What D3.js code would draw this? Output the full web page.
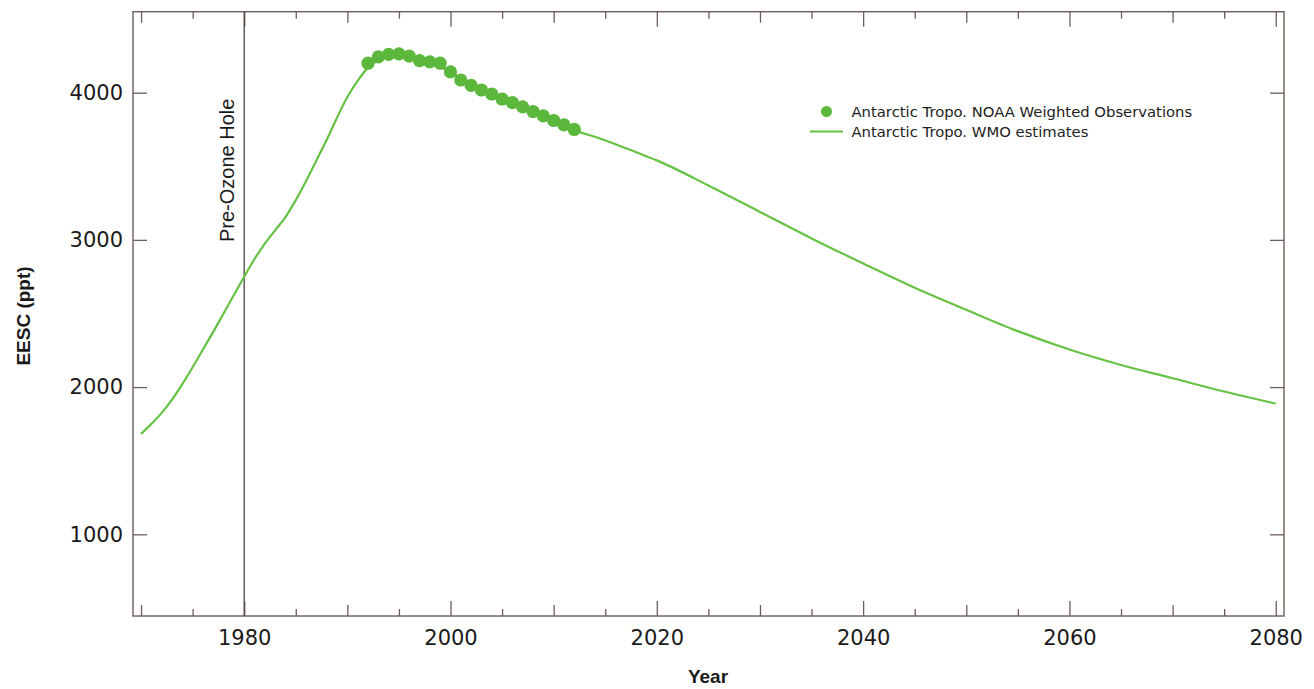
<!DOCTYPE html>
<html>
<head>
<meta charset="utf-8">
<script src="https://cdn.jsdelivr.net/npm/d3@7"></script>
<style>
  html, body { margin: 0; padding: 0; background: #fff; }
  svg { display: block; }
</style>
</head>
<body>
<svg id="chart" width="1314" height="689"></svg>
<script>
// ---- Data ----
const wmoYears = [1970,1971,1972,1973,1974,1975,1976,1977,1978,1979,1980,1981,1982,1983,1984,1985,1986,1987,1988,1989,1990,1991,1992,1993,1994,1995,1996,1997,1998,1999,2000,2002,2004,2006,2008,2010,2012,2014,2016,2018,2020,2025,2030,2035,2040,2045,2050,2055,2060,2065,2070,2075,2080];
const wmoValues = [1682,1750,1825,1915,2020,2135,2255,2375,2500,2625,2750,2870,2975,3065,3155,3270,3400,3540,3680,3830,3970,4080,4170,4220,4248,4255,4245,4225,4200,4175,4140,4050,3990,3930,3870,3810,3745,3700,3650,3595,3540,3370,3190,3010,2840,2675,2525,2380,2255,2150,2060,1970,1888];

const noaaYears = [1992,1993,1994,1995,1996,1997,1998,1999,2000,2001,2002,2003,2004,2005,2006,2007,2008,2009,2010,2011,2012];
const noaaValues = [4200,4243,4260,4263,4248,4218,4209,4200,4141,4086,4049,4018,3991,3957,3933,3903,3872,3842,3811,3781,3750];

const xLabelTicks = [1980,2000,2020,2040,2060,2080];
const xTenTicks = [1970,1990,2010,2030,2050,2070];
const xFiveTicks = [1975,1985,1995,2005,2015,2025,2035,2045,2055,2065,2075];
const yTicks = [1000,2000,3000,4000];
const preOzoneYear = 1980;
const legendLabels = ["Antarctic Tropo. NOAA Weighted Observations", "Antarctic Tropo. WMO estimates"];

// ---- Layout ----
const L = 133, R = 1284, T = 11.7, B = 616;
const frameColor = "#6b5d58";
const dotColor = "#5cb83c";
const lineColor = "#66c244";
const textColor = "#1a1a1a";

const svg = d3.select("#chart");
const x = d3.scaleLinear().domain([1969.22, 2080.8]).range([L, R]);
const y = d3.scaleLinear().domain([445, 4550]).range([B, T]);

function styleAxis(g) {
  g.select(".domain").remove();
  g.selectAll(".tick line").attr("stroke", frameColor).attr("stroke-width", 1.3);
}

// bottom axis: labelled 20-year ticks
svg.append("g").attr("transform", `translate(0,${B})`)
  .call(d3.axisBottom(x).tickValues(xLabelTicks).tickSize(-15).tickPadding(14).tickFormat(d3.format("d")))
  .call(styleAxis)
  .call(g => g.selectAll("text").attr("fill", textColor).style("font-family", "DejaVu Sans").style("font-size", "21px"));
svg.append("g").attr("transform", `translate(0,${B})`)
  .call(d3.axisBottom(x).tickValues(xTenTicks).tickSize(-11).tickFormat(""))
  .call(styleAxis);
svg.append("g").attr("transform", `translate(0,${B})`)
  .call(d3.axisBottom(x).tickValues(xFiveTicks).tickSize(-7).tickFormat(""))
  .call(styleAxis);

// top axis: mirrored ticks
svg.append("g").attr("transform", `translate(0,${T})`)
  .call(d3.axisTop(x).tickValues(xLabelTicks).tickSize(-15).tickFormat(""))
  .call(styleAxis);
svg.append("g").attr("transform", `translate(0,${T})`)
  .call(d3.axisTop(x).tickValues(xTenTicks).tickSize(-11).tickFormat(""))
  .call(styleAxis);
svg.append("g").attr("transform", `translate(0,${T})`)
  .call(d3.axisTop(x).tickValues(xFiveTicks).tickSize(-7).tickFormat(""))
  .call(styleAxis);

// left axis
svg.append("g").attr("transform", `translate(${L},0)`)
  .call(d3.axisLeft(y).tickValues(yTicks).tickSize(-14).tickPadding(10).tickFormat(d3.format("d")))
  .call(styleAxis)
  .call(g => g.selectAll("text").attr("fill", textColor).style("font-family", "DejaVu Sans").style("font-size", "21px"));
// right axis
svg.append("g").attr("transform", `translate(${R},0)`)
  .call(d3.axisRight(y).tickValues(yTicks).tickSize(-14).tickFormat(""))
  .call(styleAxis);

// frame
svg.append("rect")
  .attr("x", L).attr("y", T).attr("width", R - L).attr("height", B - T)
  .attr("fill", "none").attr("stroke", frameColor).attr("stroke-width", 1.4);

// Pre-ozone hole line
svg.append("line")
  .attr("x1", x(preOzoneYear)).attr("x2", x(preOzoneYear))
  .attr("y1", T).attr("y2", B)
  .attr("stroke", "#4e4444").attr("stroke-width", 1.3);
svg.append("text")
  .attr("transform", `translate(${x(preOzoneYear) - 10},242) rotate(-90)`)
  .attr("text-anchor", "start")
  .attr("fill", textColor)
  .style("font-family", "Liberation Sans, Arial, sans-serif").style("font-size", "20px")
  .text("Pre-Ozone Hole");

// WMO line
const line = d3.line().x((d, i) => x(wmoYears[i])).y(d => y(d)).curve(d3.curveMonotoneX);
svg.append("path")
  .datum(wmoValues)
  .attr("d", line)
  .attr("fill", "none").attr("stroke", lineColor).attr("stroke-width", 2.2);

// NOAA dots
svg.append("g").selectAll("circle")
  .data(noaaValues)
  .join("circle")
  .attr("cx", (d, i) => x(noaaYears[i]))
  .attr("cy", d => y(d))
  .attr("r", 6.6)
  .attr("fill", dotColor);

// Axis titles
svg.append("text")
  .attr("transform", "translate(30,316) rotate(-90)")
  .attr("text-anchor", "middle")
  .attr("fill", textColor)
  .style("font-family", "Liberation Sans, Arial, sans-serif").style("font-size", "19px").style("font-weight", "bold")
  .text("EESC (ppt)");
svg.append("text")
  .attr("x", 708).attr("y", 683)
  .attr("text-anchor", "middle")
  .attr("fill", textColor)
  .style("font-family", "Liberation Sans, Arial, sans-serif").style("font-size", "19px").style("font-weight", "bold")
  .text("Year");

// Legend
const lg = svg.append("g");
lg.append("circle").attr("cx", 826.5).attr("cy", 111.5).attr("r", 5.5).attr("fill", dotColor);
lg.append("line").attr("x1", 810).attr("x2", 843).attr("y1", 131.5).attr("y2", 131.5)
  .attr("stroke", lineColor).attr("stroke-width", 2.2);
lg.selectAll("text")
  .data(legendLabels)
  .join("text")
  .attr("x", 851.5)
  .attr("y", (d, i) => 117 + i * 20)
  .attr("fill", "#222")
  .style("font-family", "DejaVu Sans").style("font-size", "14.8px")
  .text(d => d);
</script>
</body>
</html>
